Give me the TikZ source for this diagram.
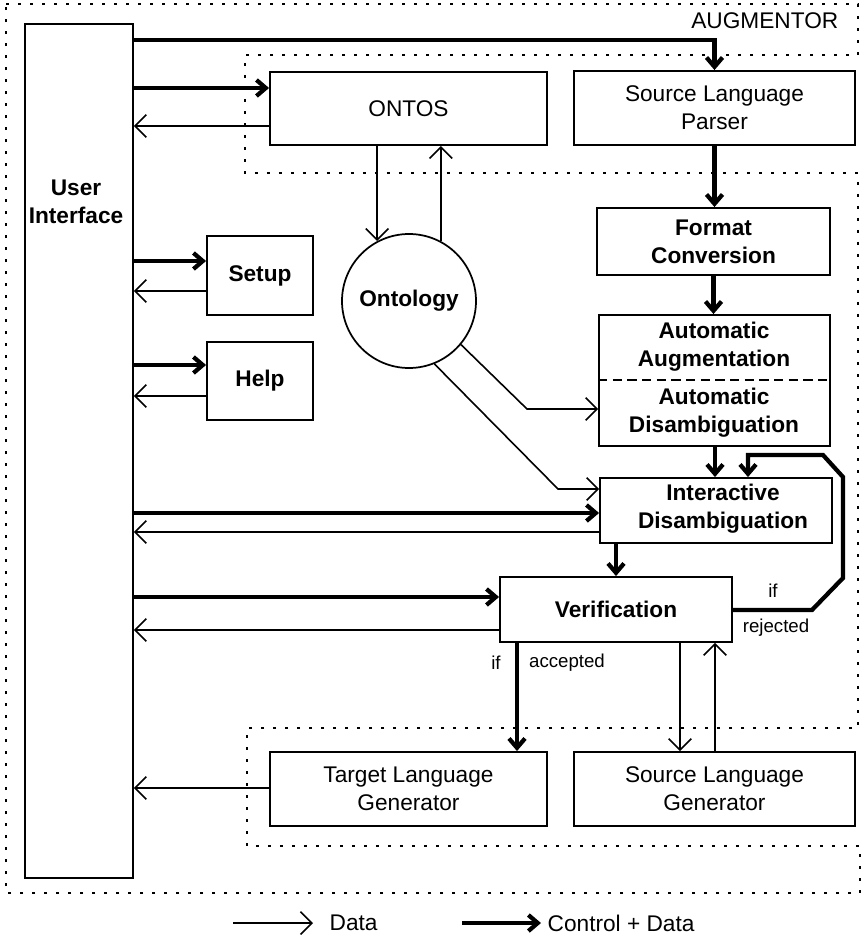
\documentclass[tikz,border=0pt]{standalone}
\usepackage{fontspec}
\setmainfont{Liberation Sans}
\usetikzlibrary{arrows.meta,calc}

\begin{document}
\begin{tikzpicture}[x=0.75pt,y=-0.75pt,
  every node/.style={font=\fontsize{17}{21}\selectfont},
  box/.style={draw, line width=1.4pt, inner sep=0pt, align=center},
  bold/.style={font=\fontsize{17}{21}\selectfont\bfseries},
  small/.style={font=\fontsize{14}{16}\selectfont},
  data/.style={line width=1.2pt, -{Straight Barb[length=8.5pt,width=17pt]}},
  ctrl/.style={line width=3.2pt, -{Straight Barb[length=7pt,width=12pt]}},
  zone/.style={line width=2.2pt, dash pattern=on 2.2pt off 6.8pt},
]
\fill[white] (0,0) rectangle (862,943);
\useasboundingbox (0,0) rectangle (862,943);

% AUGMENTOR boundary, with the external modules left outside
\draw[zone] (6,4) -- (858,4) -- (858,55) -- (245,55) -- (245,173) -- (858,173)
  -- (858,728) -- (247,728) -- (247,846) -- (860,846) -- (860,893) -- (6,893) -- cycle;
\node[anchor=east] (augm) at (843,21) {AUGMENTOR};

% modules
\node[box, minimum width=81pt, minimum height=640.5pt] (ui) at (79,451) {};
\node[bold, align=center] (uilabel) at (76,202) {User\\Interface};
\node[box, minimum width=207.75pt, minimum height=54.75pt] (ontos) at (408.5,108.5) {ONTOS};
\node[box, minimum width=210.75pt, minimum height=55.5pt] (parser) at (714.5,108) {Source Language\\Parser};
\node[box, bold, minimum width=79.5pt, minimum height=59.25pt] (setup) at (260,275.5) {Setup};
\node[box, bold, minimum width=79.5pt, minimum height=58.5pt] (help) at (260,381) {Help};
\node[draw, circle, line width=1.3pt, inner sep=0pt, minimum size=100.5pt, bold] (ontology) at (409,301) {Ontology};
\node[box, bold, minimum width=174.75pt, minimum height=50.25pt] (format) at (713.5,241.5) {Format\\Conversion};
\node[box, minimum width=173.25pt, minimum height=98.25pt] (auto) at (714.5,380.5) {};
\draw[line width=1.2pt, dash pattern=on 7pt off 4pt] (auto.west |- 0,380) -- (auto.east |- 0,380);
\node[bold, align=center] (augtext) at (714,347) {Automatic\\Augmentation};
\node[bold, align=center] (distext) at (714,413) {Automatic\\Disambiguation};
\node[box, minimum width=174pt, minimum height=48.75pt] (inter) at (716,510.5) {};
\node[bold, align=center] (intertext) at (723,509) {Interactive\\Disambiguation};
\node[box, bold, minimum width=174pt, minimum height=48.75pt] (verif) at (616,609.5) {Verification};
\node[box, minimum width=207.75pt, minimum height=55.5pt] (tgen) at (408.5,789) {Target Language\\Generator};
\node[box, minimum width=210.75pt, minimum height=55.5pt] (sgen) at (714.5,789) {Source Language\\Generator};

% control + data flow
\draw[ctrl] (ui.east |- 0,40) -- (parser.north |- 0,40) -- (parser.north);
\draw[ctrl] (ui.east |- 0,88) -- (ontos.west |- 0,88);
\draw[ctrl] (ui.east |- 0,261) -- (setup.west |- 0,261);
\draw[ctrl] (ui.east |- 0,365) -- (help.west |- 0,365);
\draw[ctrl] (ui.east |- 0,513) -- (inter.west |- 0,513);
\draw[ctrl] (ui.east |- 0,597) -- (verif.west |- 0,597);
\draw[ctrl] (parser.south) -- (parser.south |- format.north);
\draw[ctrl] (format.south) -- (format.south |- auto.north);
\draw[ctrl] (auto.south -| 715,0) -- (inter.north -| 715,0);
\draw[ctrl] (inter.south -| 616,0) -- (verif.north -| 616,0);
\draw[ctrl] (verif.east |- 0,610) -- (812,610) -- (843,578) -- (843,477)
  -- (823,455) -- (748,455) -- (inter.north -| 748,0);
\draw[ctrl] (verif.south -| 517,0) -- (tgen.north -| 517,0);

% data flow
\draw[data] (ontos.west |- 0,126) -- (ui.east |- 0,126);
\draw[data] (setup.west |- 0,291) -- (ui.east |- 0,291);
\draw[data] (help.west |- 0,396) -- (ui.east |- 0,396);
\draw[data] (inter.west |- 0,532) -- (ui.east |- 0,532);
\draw[data] (verif.west |- 0,630) -- (ui.east |- 0,630);
\draw[data] (tgen.west |- 0,788) -- (ui.east |- 0,788);
\draw[data] (ontology.118 |- ontos.south) -- (ontology.118);
\draw[data] (ontology.62) -- (ontology.62 |- ontos.south);
\draw[data] (ontology.-40) -- (527,409) -- (auto.west |- 0,409);
\draw[data] (ontology.-68) -- (558,489) -- (inter.west |- 0,489);
\draw[data] (verif.south -| 680,0) -- (sgen.north -| 680,0);
\draw[data] (sgen.north -| 715,0) -- (verif.south -| 715,0);

% branch labels
\node[small] (ifrej) at (773,591) {if};
\node[small] (rej) at (776,628) {rejected};
\node[small] (ifacc) at (496,663) {if};
\node[small] (acc) at (567,663) {accepted};

% legend
\coordinate (d0) at (233,923);
\coordinate (d1) at (313,923);
\draw[data] (d0) -- (d1);
\node[anchor=west] (dlab) at (325,923) {Data};
\coordinate (c0) at (462,923);
\coordinate (c1) at (541,923);
\draw[ctrl] (c0) -- (c1);
\node[anchor=west] (clab) at (543,923) {Control + Data};
\end{tikzpicture}
\end{document}
